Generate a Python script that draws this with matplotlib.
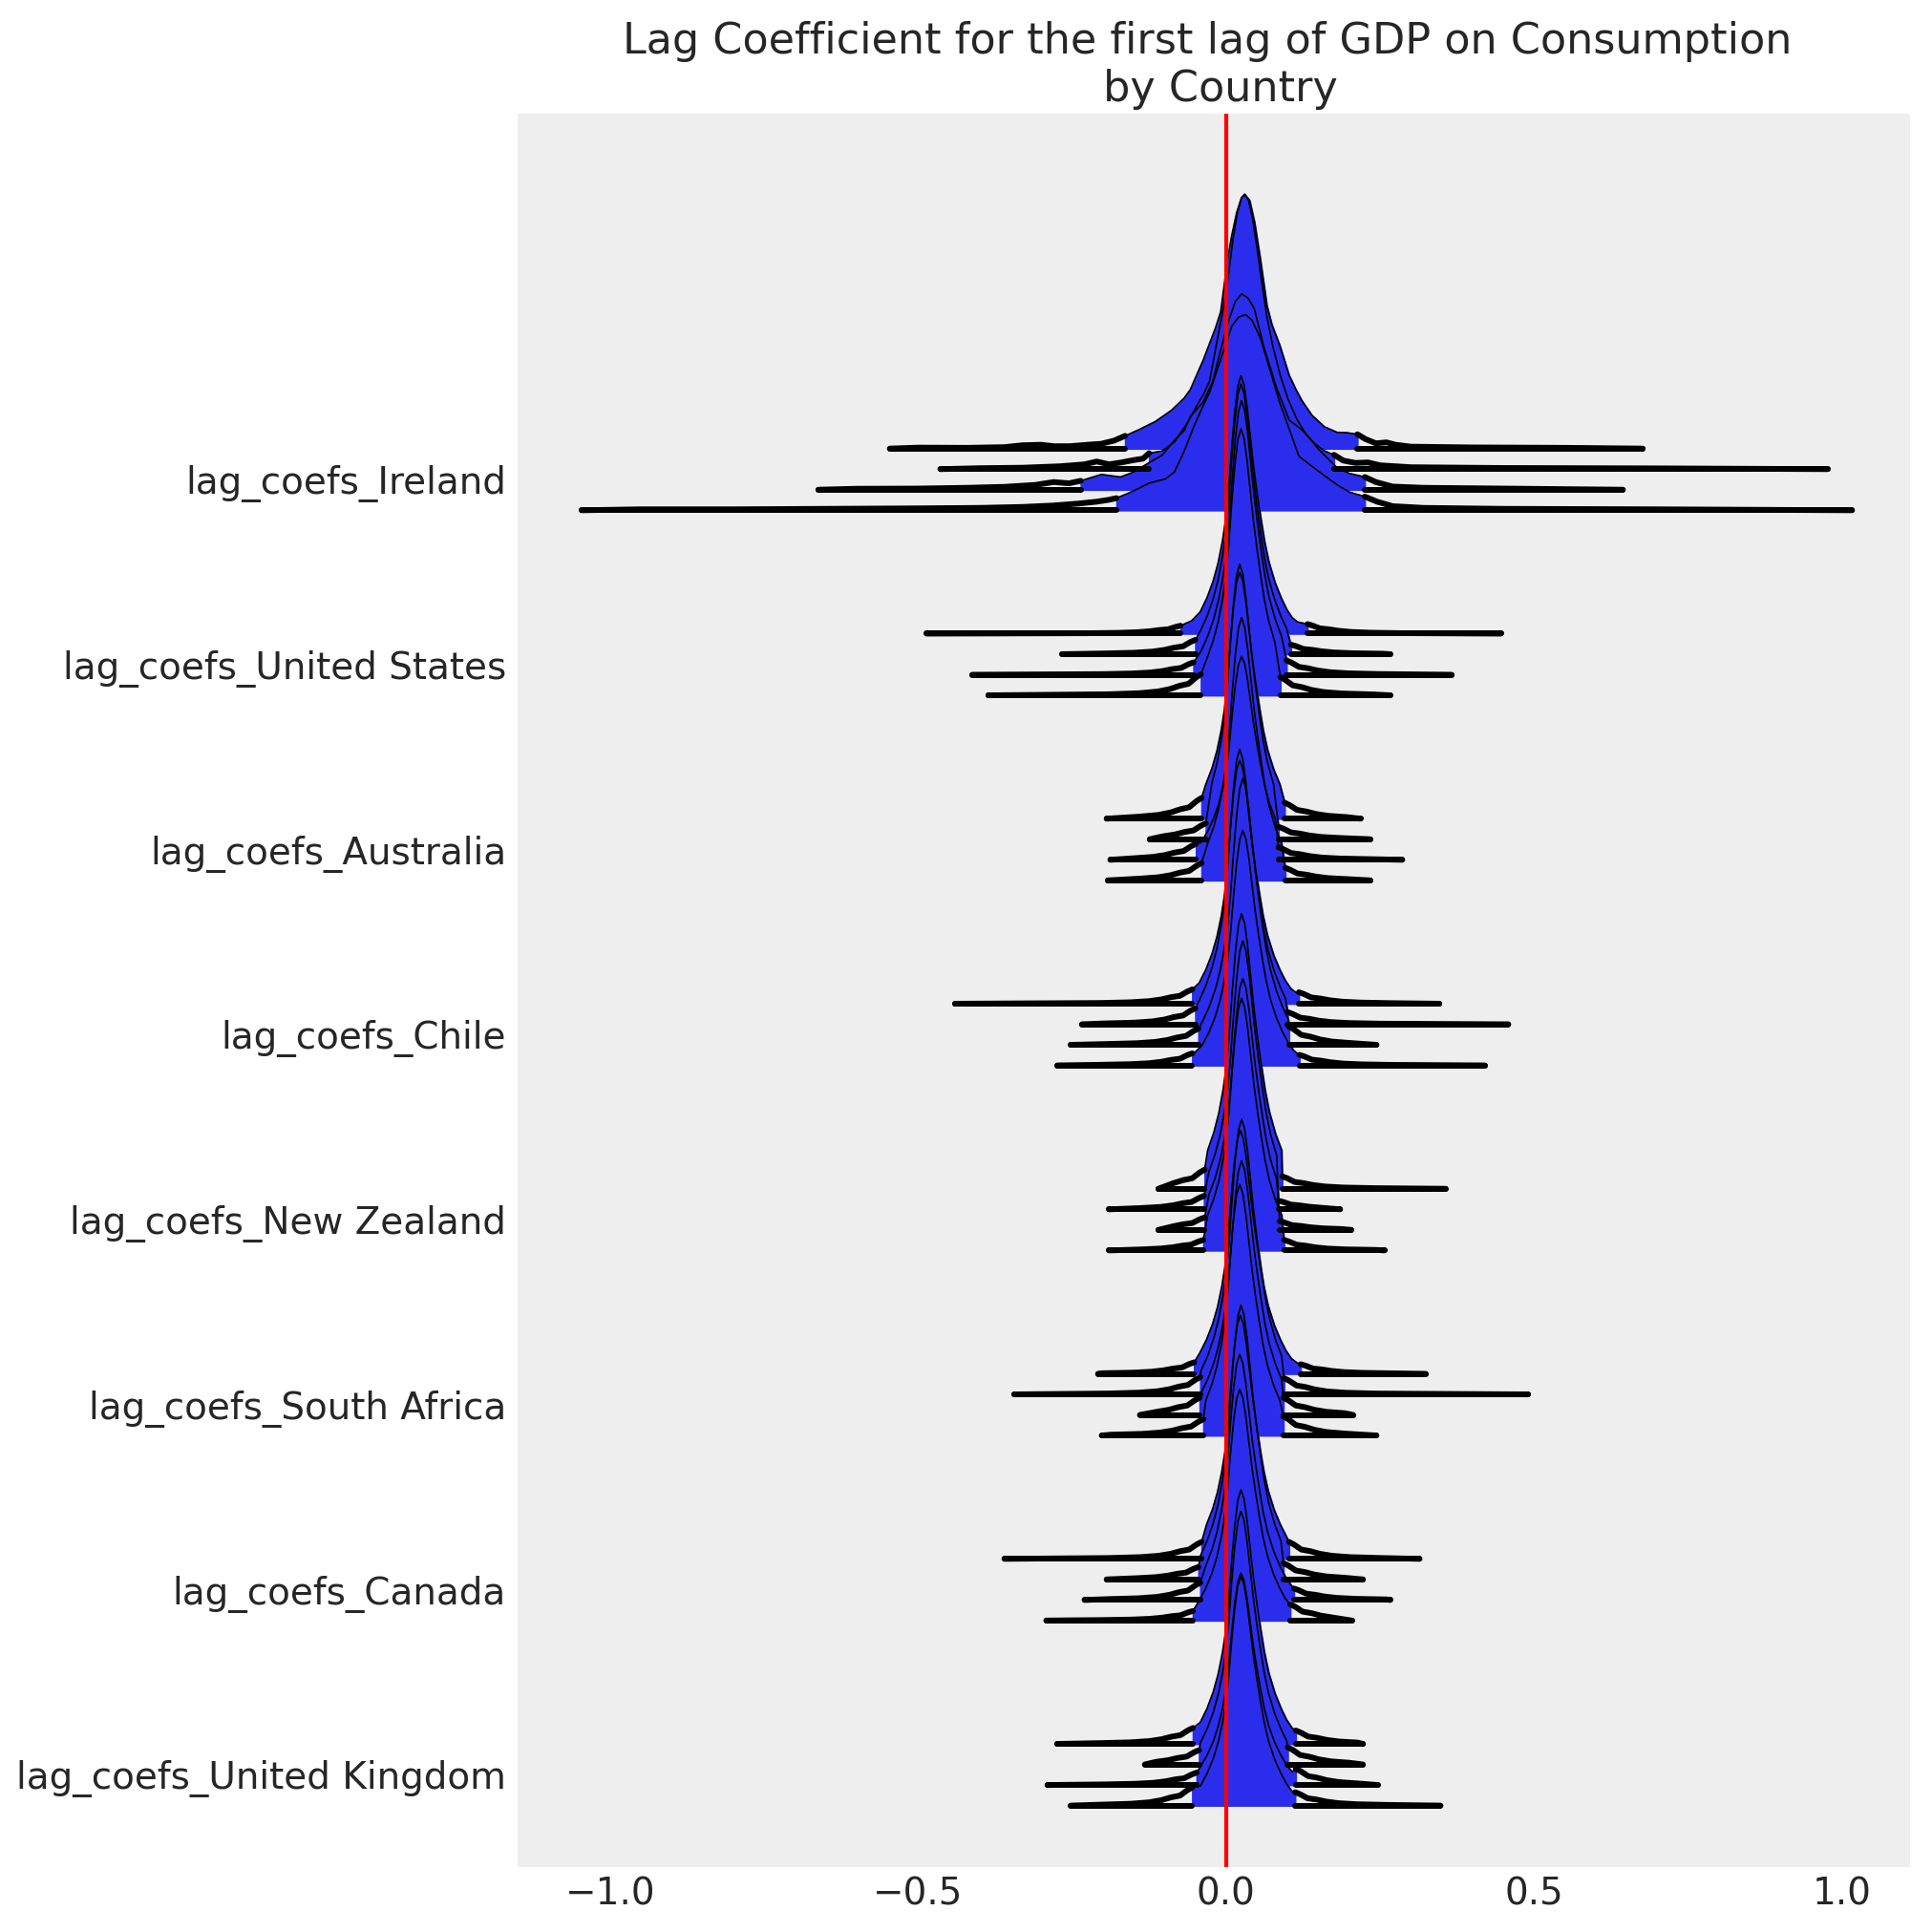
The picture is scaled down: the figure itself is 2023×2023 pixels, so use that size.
import numpy as np
import matplotlib
matplotlib.use("Agg")
import matplotlib.pyplot as plt

# ---------------- data ----------------
COUNTRIES = ["Ireland", "United States", "Australia", "Chile", "New Zealand",
             "South Africa", "Canada", "United Kingdom"]
TICK_LABELS = ["lag_coefs_" + c for c in COUNTRIES]
X_TICKS = [-1.0, -0.5, 0.0, 0.5, 1.0]
TITLE = "Lag Coefficient for the first lag of GDP on Consumption \n by Country"

# Ireland: explicit density knots per chain (density in units of 0.01)
IRELAND_X = [
    [-0.546, -0.50, -0.42, -0.36, -0.33, -0.30, -0.28, -0.254, -0.225, -0.203,
     -0.182, -0.164, -0.141, -0.115, -0.089, -0.068, -0.058, -0.048, -0.037, -0.027,
     -0.017, -0.009, -0.004, 0.002, 0.009, 0.017, 0.025, 0.030, 0.038, 0.046,
     0.055, 0.066, 0.074, 0.087, 0.102, 0.113, 0.123, 0.139, 0.159, 0.180,
     0.195, 0.213, 0.226, 0.243, 0.260, 0.275, 0.300, 0.400, 0.550, 0.676],
    [-0.464, -0.40, -0.33, -0.27, -0.23, -0.21, -0.19, -0.17, -0.15, -0.135,
     -0.125, -0.104, -0.084, -0.063, -0.043, -0.037, -0.027, -0.0165, -0.0036, 0.004,
     0.011, 0.018, 0.025, 0.030, 0.036, 0.043, 0.050, 0.058, 0.066, 0.076,
     0.088, 0.100, 0.115, 0.130, 0.145, 0.160, 0.175, 0.190, 0.210, 0.230,
     0.250, 0.300, 0.450, 0.700, 0.976],
    [-0.662, -0.60, -0.50, -0.42, -0.36, -0.31, -0.28, -0.255, -0.236, -0.2026,
     -0.1716, -0.151, -0.125, -0.104, -0.084, -0.068, -0.058, -0.037, -0.022, -0.0114,
     0.004, 0.015, 0.025, 0.035, 0.0455, 0.061, 0.0817, 0.1023, 0.128, 0.149,
     0.180, 0.200, 0.225, 0.243, 0.270, 0.320, 0.450, 0.644],
    [-1.046, -0.95, -0.80, -0.65, -0.50, -0.40, -0.33, -0.28, -0.24, -0.21,
     -0.19, -0.178, -0.151, -0.125, -0.099, -0.084, -0.068, -0.053, -0.037, -0.027,
     -0.001, 0.0093, 0.020, 0.031, 0.042, 0.0558, 0.0713, 0.0868, 0.107, 0.118,
     0.138, 0.160, 0.180, 0.200, 0.225, 0.245, 0.270, 0.320, 0.450, 0.700, 1.016],
]
IRELAND_DENS = [
    [0, 1.0, 0.8, 1.5, 3.5, 4.0, 2.5, 2.5, 4.0, 5.0,
     8.3, 13.3, 20, 28.3, 40, 53, 62, 77, 93, 110,
     127, 143, 167, 197, 223, 247, 263, 266, 260, 237,
     200, 150, 130, 108, 77, 62, 50, 35, 23, 17,
     16.7, 15, 10, 5.5, 6.5, 4, 2, 1.2, 0.8, 0],
    [0, 1, 1.5, 3, 5, 8, 5, 7, 9.5, 11,
     16.7, 19, 28.3, 48.3, 71.7, 78, 92, 128, 172, 205,
     240, 268, 284, 288, 282, 262, 232, 195, 160, 128,
     98, 74, 52, 36, 26, 19, 15, 9, 6.5, 7,
     4, 2, 1.2, 0.8, 0],
    [0, 1, 1.2, 2, 3, 5, 8, 6.7, 9.3, 16,
     13.3, 18.3, 28.3, 36, 51.7, 62, 76.7, 92, 113, 140,
     177, 197, 205, 201, 190, 150, 107, 73, 60, 43,
     23, 17, 13.3, 8, 3.3, 2, 1.2, 0],
    [0, 1, 1, 1.5, 2, 2.5, 3.5, 5, 7, 9,
     11, 12.7, 20, 28.4, 32.7, 40, 62, 86.7, 110, 123,
     173, 193, 202, 205, 199, 180, 146.7, 113, 76.7, 56.7,
     46.7, 36, 26.7, 19, 14.3, 9, 4.3, 2.5, 1.5, 1, 0],
]
IRELAND_HDI_LO = [-0.164, -0.125, -0.236, -0.178]
IRELAND_HDI_HI = [0.213, 0.175, 0.225, 0.225]

# Shape of the narrow posteriors (offset from mode, fraction of peak density)
PROFILE_DX = [-0.080, -0.066, -0.055, -0.045, -0.037, -0.030, -0.025, -0.020, -0.015,
              -0.010, -0.005, 0.0, 0.005, 0.010, 0.015, 0.020, 0.026, 0.032, 0.038,
              0.045, 0.055, 0.065, 0.074, 0.083, 0.092]
PROFILE_FRAC = [0.050, 0.085, 0.140, 0.205, 0.275, 0.360, 0.440, 0.560, 0.720,
                0.860, 0.960, 1.000, 0.965, 0.880, 0.770, 0.660, 0.550, 0.450, 0.360,
                0.280, 0.200, 0.140, 0.095, 0.062, 0.045]
# Tails beyond the HDI (distance from HDI edge, fraction of the edge density)
TAIL_OFF = [0.008, 0.02, 0.035, 0.05, 0.07, 0.10, 0.15]
TAIL_FRAC = [0.85, 0.55, 0.45, 0.30, 0.18, 0.10, 0.05]

# Per chain values for: United States, Australia, Chile, New Zealand,
# South Africa, Canada, United Kingdom  (4 chains each)
MODE = [[0.024, 0.024, 0.025, 0.024],
        [0.022, 0.022, 0.025, 0.025],
        [0.022, 0.022, 0.027, 0.027],
        [0.025, 0.027, 0.027, 0.025],
        [0.023, 0.025, 0.025, 0.022],
        [0.023, 0.024, 0.022, 0.022],
        [0.024, 0.024, 0.024, 0.024]]
PEAK = [[270, 283, 287, 279],
        [258, 288, 213, 275],
        [255, 288, 279, 246],
        [288, 281, 263, 264],
        [255, 288, 266, 263],
        [255, 287, 257, 242],
        [266, 265, 222, 240]]
HDI_LO = [[-0.074, -0.050, -0.053, -0.041],
          [-0.040, -0.033, -0.049, -0.040],
          [-0.055, -0.050, -0.045, -0.055],
          [-0.035, -0.036, -0.035, -0.037],
          [-0.052, -0.042, -0.043, -0.037],
          [-0.040, -0.045, -0.042, -0.054],
          [-0.054, -0.044, -0.048, -0.055]]
HDI_HI = [[0.132, 0.105, 0.098, 0.088],
          [0.095, 0.085, 0.085, 0.096],
          [0.118, 0.100, 0.102, 0.119],
          [0.091, 0.085, 0.087, 0.094],
          [0.121, 0.094, 0.093, 0.093],
          [0.102, 0.093, 0.110, 0.104],
          [0.113, 0.100, 0.113, 0.112]]
EDGE_LO = [[8.3, 15, 13, 22],
           [21.7, 16.7, 16.7, 18],
           [15, 16.7, 17, 12.7],
           [20, 14, 13, 11],
           [12, 18, 18, 17],
           [17.7, 13, 18, 10],
           [16.7, 15, 13, 19]]
EDGE_HI = [[10, 10, 15, 19],
           [16.7, 13, 13, 13],
           [12, 12.7, 19, 11],
           [13, 9, 9, 11],
           [10, 17, 18, 20],
           [17.7, 17, 12, 17],
           [14, 18, 17, 14]]
X_MIN = [[-0.486, -0.266, -0.412, -0.386],
         [-0.194, -0.124, -0.188, -0.192],
         [-0.440, -0.234, -0.252, -0.274],
         [-0.110, -0.190, -0.110, -0.190],
         [-0.208, -0.344, -0.140, -0.202],
         [-0.360, -0.194, -0.230, -0.292],
         [-0.274, -0.132, -0.290, -0.252]]
X_MAX = [[0.446, 0.266, 0.366, 0.266],
         [0.218, 0.234, 0.286, 0.234],
         [0.346, 0.458, 0.244, 0.420],
         [0.356, 0.185, 0.203, 0.257],
         [0.324, 0.490, 0.206, 0.244],
         [0.314, 0.222, 0.266, 0.204],
         [0.222, 0.222, 0.246, 0.348]]

# ---------------- style ----------------
BLUE = "#2a2eec"
BG = "#eeeeee"
TEXT = "#262626"
DENSITY_UNIT = 100.0
RIDGE_SCALE = 4.645      # y data units per density unit
COUNTRY_STEP = 9.0
CHAIN_STEP = 1.0
LW = 2.16
THIN = 0.6


def narrow_curve(i, c):
    mode, peak = MODE[i][c], PEAK[i][c]
    lo, hi = HDI_LO[i][c], HDI_HI[i][c]
    elo, ehi = EDGE_LO[i][c], EDGE_HI[i][c]
    xmin, xmax = X_MIN[i][c], X_MAX[i][c]
    xs, ds = [xmin], [0.0]
    for off, fr in reversed(list(zip(TAIL_OFF, TAIL_FRAC))):
        if lo - off > xmin + 0.005:
            xs.append(lo - off)
            ds.append(elo * fr)
    xs.append(lo)
    ds.append(elo)
    for dx, fr in zip(PROFILE_DX, PROFILE_FRAC):
        if lo < mode + dx < hi:
            xs.append(mode + dx)
            ds.append(peak * fr)
    xs.append(hi)
    ds.append(ehi)
    for off, fr in zip(TAIL_OFF, TAIL_FRAC):
        if hi + off < xmax - 0.005:
            xs.append(hi + off)
            ds.append(ehi * fr)
    xs.append(xmax)
    ds.append(0.0)
    return np.array(xs), np.array(ds), lo, hi


W = 2023
fig = plt.figure(figsize=(W / 200, W / 200), dpi=200)
ax = fig.add_axes([542 / W, (W - 1955) / W, (2000 - 542) / W, (1955 - 119) / W])
ax.set_facecolor(BG)
for s in ax.spines.values():
    s.set_visible(False)

kw = dict(color="k", lw=LW, solid_capstyle="round", solid_joinstyle="round")
for k, country in enumerate(COUNTRIES):
    for c in range(4):
        base = (len(COUNTRIES) - 1 - k) * COUNTRY_STEP + (3 - c) * CHAIN_STEP
        if k == 0:
            xs = np.array(IRELAND_X[c], dtype=float)
            ds = np.array(IRELAND_DENS[c], dtype=float)
            lo, hi = IRELAND_HDI_LO[c], IRELAND_HDI_HI[c]
        else:
            xs, ds, lo, hi = narrow_curve(k - 1, c)
        ds = ds / DENSITY_UNIT
        dlo, dhi = np.interp(lo, xs, ds), np.interp(hi, xs, ds)
        left = xs < lo
        right = xs > hi
        # tails: thick density line and baseline outside the HDI
        ax.plot(np.append(xs[left], lo), base + np.append(ds[left], dlo) * RIDGE_SCALE, **kw)
        ax.plot(np.insert(xs[right], 0, hi), base + np.insert(ds[right], 0, dhi) * RIDGE_SCALE, **kw)
        ax.plot([xs[0], lo], [base, base], **kw)
        ax.plot([hi, xs[-1]], [base, base], **kw)
        # HDI region filled, with a thin outline on top
        inside = (xs > lo) & (xs < hi)
        xf = np.concatenate([[lo], xs[inside], [hi]])
        df = np.concatenate([[dlo], ds[inside], [dhi]])
        ax.fill_between(xf, base, base + df * RIDGE_SCALE, facecolor=BLUE,
                        edgecolor=BLUE, lw=0.6)
        ax.plot(xf, base + df * RIDGE_SCALE, color="k", lw=THIN,
                solid_joinstyle="round")

ax.axvline(0, color="red", lw=1.5, zorder=50)

ax.set_xlim(-1.150, 1.110)
ax.set_ylim(-2.99, 82.29)
ax.set_yticks([(len(COUNTRIES) - 1 - k) * COUNTRY_STEP + 1.5 * CHAIN_STEP
               for k in range(len(COUNTRIES))])
ax.set_yticklabels(TICK_LABELS)
ax.set_xticks(X_TICKS)
ax.set_xticklabels([f"{v:.1f}".replace("-", "\u2212") for v in X_TICKS])
ax.tick_params(axis="both", length=0, labelsize=14, colors=TEXT)
ax.tick_params(axis="y", pad=4.3)
ax.tick_params(axis="x", pad=3.5)
ax.grid(False)
ax.set_title(TITLE, fontsize=16, color=TEXT, pad=4.8)

fig.savefig("out.png", dpi=200, facecolor="white")
